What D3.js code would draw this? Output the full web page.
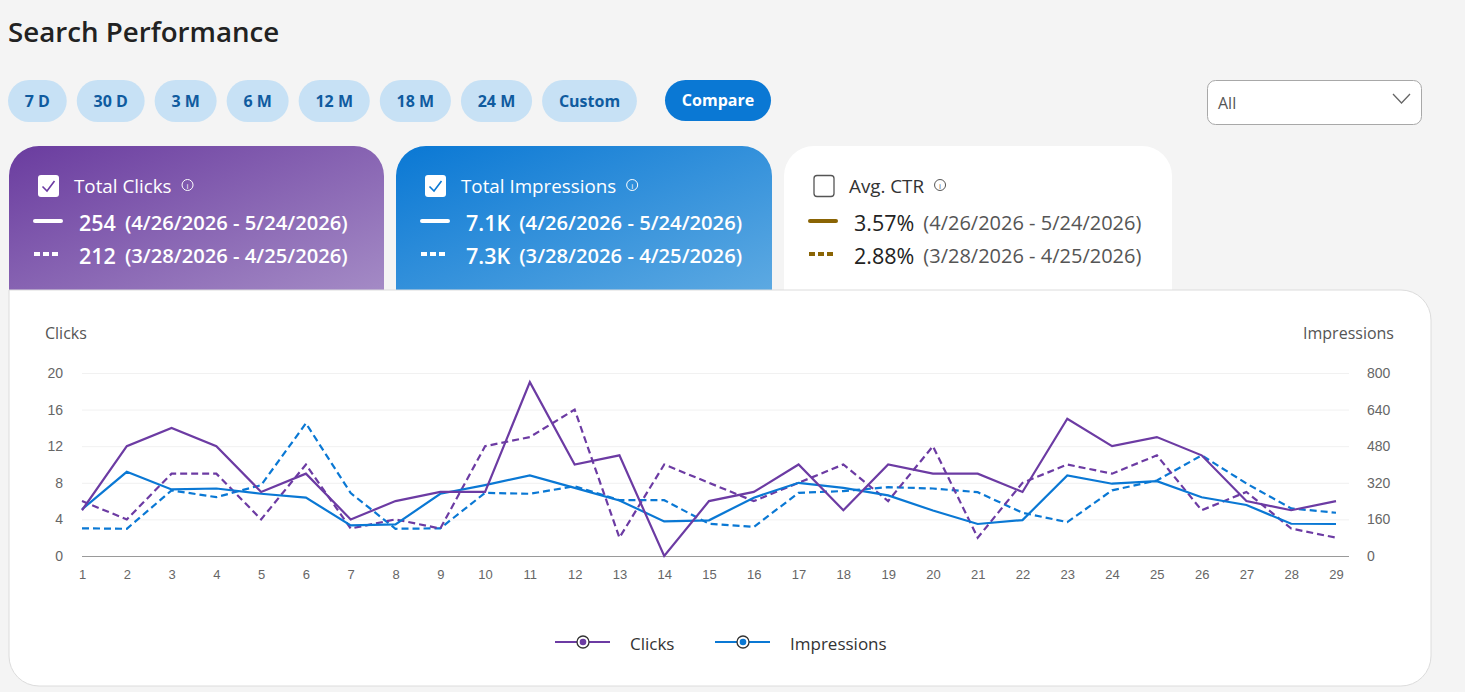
<!DOCTYPE html>
<html>
<head>
<meta charset="utf-8">
<script src="https://cdn.jsdelivr.net/npm/d3@7"></script>
<style>
  html, body { margin: 0; padding: 0; background: #f4f4f4; overflow: hidden; }
  svg { display: block; font-family: "Open Sans", "Noto Sans", sans-serif; }
</style>
</head>
<body>
<svg id="page" width="1465" height="692"></svg>
<script>
// ---- data ----
var days = [1, 2, 3, 4, 5, 6, 7, 8, 9, 10, 11, 12, 13, 14, 15, 16, 17, 18, 19, 20, 21, 22, 23, 24, 25, 26, 27, 28, 29]
var clicksCur  = [5, 12, 14, 12, 7, 9, 4, 6, 7, 7, 19, 10, 11, 0, 6, 7, 10, 5, 10, 9, 9, 7, 15, 12, 13, 11, 6, 5, 6]
var clicksPrev = [6, 4, 9, 9, 4, 10, 3, 4, 3, 12, 13, 16, 2, 10, 8, 6, 8, 10, 6, 12, 2, 8, 10, 9, 11, 5, 7, 3, 2]
var imprCur  = [204, 368, 291, 295, 272, 255, 134, 138, 272, 310, 352, 298, 243, 151, 156, 255, 320, 298, 265, 199, 140, 157, 352, 316, 327, 257, 223, 141, 140]
var imprPrev = [121, 119, 287, 257, 310, 580, 275, 119, 121, 276, 272, 305, 244, 244, 141, 127, 276, 284, 301, 295, 279, 189, 148, 287, 330, 440, 317, 208, 189]

var clickTicks = [0, 4, 8, 12, 16, 20]
var imprTicks = [0, 160, 320, 480, 640, 800]

var ranges = ['7 D', '30 D', '3 M', '6 M', '12 M', '18 M', '24 M', 'Custom']

var cardTitles = ['Total Clicks', 'Total Impressions', 'Avg. CTR']
var cardCur  = ['254', '7.1K', '3.57%']
var cardPrev = ['212', '7.3K', '2.88%']
var curRange  = '(4/26/2026 - 5/24/2026)'
var prevRange = '(3/28/2026 - 4/25/2026)'

var purple = '#6c3ba3'
var blue = '#0a78d4'
var ctrColor = '#8a6404'

var svg = d3.select('#page')
var defs = svg.append('defs')

// title
svg.append('text').text('Search Performance')
  .attr('x', 8).attr('y', 42)
  .attr('font-size', 27.7).attr('font-weight', 600).attr('fill', '#222')

// range pills
var px = 8
ranges.forEach(function(r){
  var g = svg.append('g')
  var t = g.append('text').text(r)
    .attr('y', 101).attr('dominant-baseline', 'central')
    .attr('font-size', 16).attr('font-weight', 700).attr('fill', '#0f5b9f')
    .attr('text-anchor', 'middle')
  var w = t.node().getComputedTextLength() + 33.6
  g.insert('rect', 'text')
    .attr('x', px).attr('y', 80).attr('width', w).attr('height', 42)
    .attr('rx', 21).attr('fill', '#c7e1f5')
  t.attr('x', px + w/2)
  px += w + 10
})

// compare button
svg.append('rect').attr('x', 665).attr('y', 80).attr('width', 106).attr('height', 41)
  .attr('rx', 20.5).attr('fill', '#0a78d4')
svg.append('text').text('Compare')
  .attr('x', 718).attr('y', 100).attr('dominant-baseline', 'central').attr('text-anchor', 'middle')
  .attr('font-size', 16).attr('font-weight', 700).attr('fill', '#fff')

// dropdown
svg.append('rect').attr('x', 1207.5).attr('y', 80.5).attr('width', 214).attr('height', 44)
  .attr('rx', 8).attr('fill', '#fff').attr('stroke', '#a8a8a8')
svg.append('text').text('All')
  .attr('x', 1218).attr('y', 103).attr('dominant-baseline', 'central')
  .attr('font-size', 16).attr('fill', '#555')
svg.append('path').attr('d', 'M1393,94 L1401.5,103 L1410,94')
  .attr('fill', 'none').attr('stroke', '#666').attr('stroke-width', 1.3)

// cards
function topRounded(x, y, w, h, r){
  return 'M' + x + ',' + (y + h) + 'V' + (y + r) + 'A' + r + ',' + r + ' 0 0 1 ' + (x + r) + ',' + y +
    'H' + (x + w - r) + 'A' + r + ',' + r + ' 0 0 1 ' + (x + w) + ',' + (y + r) + 'V' + (y + h) + 'Z'
}

var gradStops = [['#6a3c9f', '#a58cc6'], ['#0a78d4', '#5eaae2']]
gradStops.forEach(function(s, i){
  var lg = defs.append('linearGradient').attr('id', 'grad' + i)
    .attr('x1', '0%').attr('y1', '0%').attr('x2', '100%').attr('y2', '100%')
  lg.append('stop').attr('offset', '0%').attr('stop-color', s[0])
  lg.append('stop').attr('offset', '100%').attr('stop-color', s[1])
})

var cardX = [9, 396, 784]
var cardW = [375, 376, 388]
var accent = [purple, blue, ctrColor]

cardTitles.forEach(function(title, i){
  var dark = i == 2
  var g = svg.append('g').attr('transform', 'translate(' + cardX[i] + ',0)')
  g.append('path').attr('d', topRounded(0, 146, cardW[i], 150, 30))
    .attr('fill', dark ? '#fff' : 'url(#grad' + i + ')')

  var ox = 29
  // checkbox
  if (dark) {
    g.append('rect').attr('x', ox + 1).attr('y', 175.5).attr('width', 20).attr('height', 21)
      .attr('rx', 3).attr('fill', '#fff').attr('stroke', '#555').attr('stroke-width', 1.3)
  } else {
    g.append('rect').attr('x', ox).attr('y', 175).attr('width', 21).attr('height', 22)
      .attr('rx', 3).attr('fill', '#fff')
    g.append('path').attr('d', 'M' + (ox + 4.5) + ',186.5 L' + (ox + 9) + ',191 L' + (ox + 16.5) + ',181')
      .attr('fill', 'none').attr('stroke', accent[i]).attr('stroke-width', 1.6)
  }
  var tt = g.append('text').text(title)
    .attr('x', ox + 36).attr('y', 186).attr('dominant-baseline', 'central')
    .attr('font-size', 18.8).attr('fill', dark ? '#333' : '#fff')
  var tw = tt.node().getComputedTextLength()
  var ic = ox + 36 + tw + 16
  g.append('circle').attr('cx', ic).attr('cy', 185).attr('r', 5.5)
    .attr('fill', 'none').attr('stroke', dark ? '#555' : '#fff').attr('stroke-width', 1)
  g.append('text').text('i').attr('x', ic).attr('y', 185.5)
    .attr('dominant-baseline', 'central').attr('text-anchor', 'middle')
    .attr('font-size', 8).attr('fill', dark ? '#555' : '#fff')

  var lineCol = dark ? ctrColor : '#fff'
  var rows = [[cardCur[i], curRange, 221, null], [cardPrev[i], prevRange, 254, '6,3']]
  rows.forEach(function(r){
    var ln = g.append('line').attr('x1', 26).attr('x2', 52).attr('y1', r[2]).attr('y2', r[2])
      .attr('stroke', lineCol).attr('stroke-width', 4)
    if (r[3]) ln.attr('stroke-dasharray', r[3]).attr('x1', 25).attr('x2', 52)
    else ln.attr('stroke-linecap', 'round')
    var vt = g.append('text').text(r[0])
      .attr('x', 70).attr('y', r[2] + 1).attr('dominant-baseline', 'central')
      .attr('font-size', 21.5).attr('font-weight', dark ? 400 : 600)
      .attr('fill', dark ? '#222' : '#fff')
    var vw = vt.node().getComputedTextLength()
    g.append('text').text(r[1])
      .attr('x', 70 + vw + 9).attr('y', r[2] + 1).attr('dominant-baseline', 'central')
      .attr('font-size', dark ? 20 : 20.2).attr('font-weight', dark ? 400 : 600)
      .attr('fill', dark ? '#555' : '#fff')
  })
})

// chart panel
var pX = 9, pY = 290, pW = 1422, pH = 396, pr = 30
svg.append('path')
  .attr('d', 'M' + pX + ',' + pY + 'H' + (pX + pW - pr) +
    'A' + pr + ',' + pr + ' 0 0 1 ' + (pX + pW) + ',' + (pY + pr) +
    'V' + (pY + pH - pr) + 'A' + pr + ',' + pr + ' 0 0 1 ' + (pX + pW - pr) + ',' + (pY + pH) +
    'H' + (pX + pr) + 'A' + pr + ',' + pr + ' 0 0 1 ' + pX + ',' + (pY + pH - pr) + 'Z')
  .attr('fill', '#fff').attr('stroke', '#dcdcdc').attr('stroke-width', 1)

// scales
var x = d3.scaleLinear().domain([1, 29]).range([82, 1336])
var yL = d3.scaleLinear().domain([0, 20]).range([556, 373])
var yR = d3.scaleLinear().domain([0, 800]).range([556, 373])

var gridG = svg.append('g')
gridG.selectAll('line').data(clickTicks.slice(1)).join('line')
  .attr('x1', 82).attr('x2', 1349)
  .attr('y1', function(d){ return yL(d) + 0.5 }).attr('y2', function(d){ return yL(d) + 0.5 })
  .attr('stroke', '#f1f1f1')
svg.append('line').attr('x1', 82).attr('x2', 1349).attr('y1', 556.5).attr('y2', 556.5)
  .attr('stroke', '#9a9a9a')

function styleAxis(g){
  g.select('.domain').remove()
  g.selectAll('line').remove()
  g.selectAll('text').attr('fill', '#666').attr('font-family', '"Liberation Sans", Arial, sans-serif')
}

svg.append('g').attr('transform', 'translate(63,0)')
  .call(d3.axisLeft(yL).tickValues(clickTicks).tickSize(0).tickPadding(0))
  .call(styleAxis)
  .selectAll('text').attr('font-size', 14)

svg.append('g').attr('transform', 'translate(1367,0)')
  .call(d3.axisRight(yR).tickValues(imprTicks).tickSize(0).tickPadding(0))
  .call(styleAxis)
  .selectAll('text').attr('font-size', 14)

svg.append('g').attr('transform', 'translate(0,565)')
  .call(d3.axisBottom(x).tickValues(days).tickFormat(d3.format('d')).tickSize(0).tickPadding(5))
  .call(styleAxis)
  .selectAll('text').attr('font-size', 13)

svg.append('text').text('Clicks').attr('x', 45).attr('y', 333)
  .attr('dominant-baseline', 'central').attr('font-size', 16).attr('fill', '#555')
svg.append('text').text('Impressions').attr('x', 1394).attr('y', 333)
  .attr('dominant-baseline', 'central').attr('text-anchor', 'end').attr('font-size', 16).attr('fill', '#555')

// series
var series = [
  {vals: imprPrev, scale: yR, color: blue, dash: '7,4'},
  {vals: clicksPrev, scale: yL, color: purple, dash: '7,4'},
  {vals: imprCur, scale: yR, color: blue, dash: null},
  {vals: clicksCur, scale: yL, color: purple, dash: null},
]
series.forEach(function(s){
  var line = d3.line()
    .x(function(d, i){ return x(days[i]) })
    .y(function(d){ return s.scale(d) })
  svg.append('path').datum(s.vals)
    .attr('d', line)
    .attr('fill', 'none')
    .attr('stroke', s.color)
    .attr('stroke-width', 2.2)
    .attr('stroke-linejoin', 'miter')
    .attr('stroke-dasharray', s.dash)
})

// legend
var legend = [['Clicks', purple, 555, 630], ['Impressions', blue, 715, 790]]
legend.forEach(function(l){
  var g = svg.append('g')
  g.append('line').attr('x1', l[2]).attr('x2', l[2] + 55).attr('y1', 642).attr('y2', 642)
    .attr('stroke', l[1]).attr('stroke-width', 2)
  g.append('circle').attr('cx', l[2] + 28).attr('cy', 642).attr('r', 6)
    .attr('fill', '#fff').attr('stroke', '#333').attr('stroke-width', 1.3)
  g.append('circle').attr('cx', l[2] + 28).attr('cy', 642).attr('r', 3.3).attr('fill', l[1])
  g.append('text').text(l[0]).attr('x', l[3]).attr('y', 643)
    .attr('dominant-baseline', 'central').attr('font-size', 17).attr('fill', '#333')
})
</script>
</body>
</html>
